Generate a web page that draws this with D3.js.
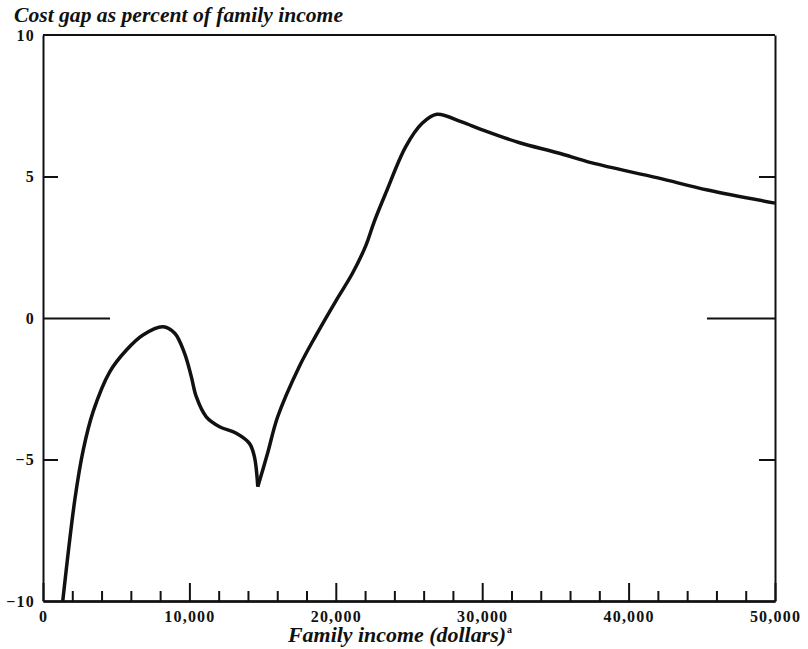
<!DOCTYPE html>
<html>
<head>
<meta charset="utf-8">
<script src="https://cdn.jsdelivr.net/npm/d3@7"></script>
<style>
  body { margin: 0; background: #fff; }
  text { font-family: "Liberation Serif", "DejaVu Serif", serif; fill: #111; }
</style>
</head>
<body>
<div id="chart"></div>
<script>
// 1: DATA
const title = "Cost gap as percent of family income";
const xTitle = "Family income (dollars)";
const xMajorTicks = [0, 10000, 20000, 30000, 40000, 50000];
const xMinorTicks = d3.range(2000, 50000, 2000).filter(v => v % 10000 !== 0);
const yLabelTicks = [10, 5, 0, -5, -10];
const yInnerTicks = [5, 0, -5];

// income (dollars) and cost gap (% of income); the curve has a cusp at the dip
const incomeLeft = [1350, 2180, 2750, 3430, 4560, 5700, 6830, 8200, 9000, 9670, 10130, 10470, 11150, 12060, 13200, 14100, 14440, 14670];
const gapLeft    = [-10, -6.4, -4.66, -3.3, -1.9, -1.13, -0.6, -0.31, -0.54, -1.25, -2.07, -2.78, -3.49, -3.84, -4.07, -4.43, -4.9, -5.96];
const incomeRight = [14670, 15330, 16030, 17500, 18640, 20000, 21140, 22050, 22620, 23410, 24770, 25900, 26900, 28600, 30000, 32500, 35200, 37500, 42000, 45400, 50000];
const gapRight    = [-5.96, -4.8, -3.49, -1.72, -0.62, 0.6, 1.58, 2.56, 3.4, 4.41, 6.05, 6.88, 7.2, 6.93, 6.65, 6.2, 5.83, 5.48, 4.95, 4.52, 4.06];

// 2: SVG SETUP
const W = 808, H = 649;
const margin = { top: 35, right: 33, bottom: 48, left: 43 };
const width = W - margin.left - margin.right;
const height = H - margin.top - margin.bottom;

const svg = d3.select("#chart").append("svg")
    .attr("width", W)
    .attr("height", H);

const g = svg.append("g")
    .attr("transform", `translate(${margin.left},${margin.top})`);

// 3: SCALES
const x = d3.scaleLinear().domain([0, 50000]).range([0, width]);
const y = d3.scaleLinear().domain([-10, 10]).range([height, 0]);

// 4: FRAME
g.append("line")
    .attr("x1", x(0)).attr("x2", x(50000))
    .attr("y1", y(10)).attr("y2", y(10))
    .attr("stroke", "#111").attr("stroke-width", 2);

// 5: AXES
const tickLen = v => v === 0 ? 67 : 15;

// bottom: minor ticks
g.append("g")
    .attr("class", "x-minor")
    .attr("transform", `translate(0,${height})`)
    .call(d3.axisBottom(x).tickValues(xMinorTicks).tickSizeInner(-10).tickSizeOuter(0).tickFormat(""));

// bottom: major ticks and labels
g.append("g")
    .attr("class", "x-major")
    .attr("transform", `translate(0,${height})`)
    .call(d3.axisBottom(x).tickValues(xMajorTicks).tickSizeInner(-18).tickSizeOuter(0)
        .tickPadding(10).tickFormat(d3.format(",")));

// left axis with labels
const yLeft = g.append("g")
    .attr("class", "y-left")
    .call(d3.axisLeft(y).tickValues(yLabelTicks).tickSizeOuter(0).tickSize(0).tickPadding(8));
yLeft.selectAll(".tick line")
    .filter(d => yInnerTicks.includes(d))
    .attr("x2", d => tickLen(d));

// right axis, inward ticks only
const yRight = g.append("g")
    .attr("class", "y-right")
    .attr("transform", `translate(${width},0)`)
    .call(d3.axisRight(y).tickValues(yInnerTicks).tickSizeOuter(0).tickFormat(""));
yRight.selectAll(".tick line")
    .attr("x2", d => -tickLen(d) - 1);

// style all axes
g.selectAll(".domain").attr("stroke", "#111").attr("stroke-width", 2);
g.select(".x-major .domain").attr("stroke-width", 2.5);
g.selectAll(".tick line").attr("stroke", "#111").attr("stroke-width", 2);
g.selectAll(".tick text")
    .style("font-size", "16px")
    .style("font-weight", "bold")
    .style("letter-spacing", "1.2px")
    .attr("fill", "#111");

// 6: CURVE
const line = d3.line()
    .x(d => x(d[0]))
    .y(d => y(d[1]))
    .curve(d3.curveCatmullRom.alpha(0.5));

const segments = [
    d3.zip(incomeLeft, gapLeft),
    d3.zip(incomeRight, gapRight)
];

g.selectAll(".curve")
    .data(segments)
    .enter()
    .append("path")
    .attr("class", "curve")
    .attr("d", line)
    .attr("fill", "none")
    .attr("stroke", "#111")
    .attr("stroke-width", 3.5)
    .attr("stroke-linecap", "butt");

// 7: TITLES
svg.append("text")
    .attr("x", 14)
    .attr("y", 22)
    .attr("textLength", 329)
    .attr("lengthAdjust", "spacingAndGlyphs")
    .style("font-size", "20px")
    .style("font-style", "italic")
    .style("font-weight", "bold")
    .text(title);

const xt = svg.append("g");
xt.append("text")
    .attr("x", 288)
    .attr("y", 642)
    .attr("textLength", 218)
    .attr("lengthAdjust", "spacingAndGlyphs")
    .style("font-size", "20px")
    .style("font-style", "italic")
    .style("font-weight", "bold")
    .text(xTitle);
xt.append("text")
    .attr("x", 507)
    .attr("y", 633)
    .style("font-size", "10px")
    .style("font-weight", "bold")
    .text("a");
</script>
</body>
</html>
